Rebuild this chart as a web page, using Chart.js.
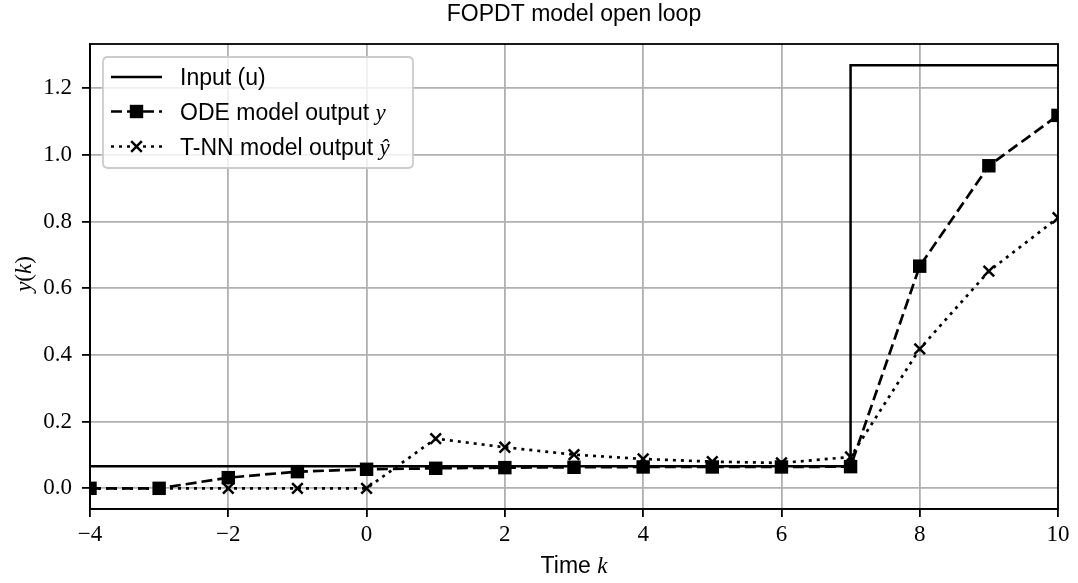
<!DOCTYPE html>
<html>
<head>
<meta charset="utf-8">
<script src="https://cdn.jsdelivr.net/npm/chart.js@4.4.1/dist/chart.umd.min.js"></script>
<style>
  html, body { margin: 0; padding: 0; background: #ffffff; }
  #wrap { width: 1078px; height: 583px; }
</style>
</head>
<body>
<div id="wrap"><canvas id="c" width="1078" height="583"></canvas></div>
<script>
// ---- data ----
const steps = [-4, -3, -2, -1, 0, 1, 2, 3, 4, 5, 6, 7, 8, 9, 10];
const odeOutput = [0.000, 0.000, 0.032, 0.050, 0.057, 0.060, 0.062, 0.063, 0.064, 0.064, 0.064, 0.065, 0.666, 0.967, 1.118];
const tnnOutput = [0.000, 0.000, 0.000, 0.000, 0.000, 0.149, 0.123, 0.101, 0.088, 0.080, 0.076, 0.094, 0.418, 0.651, 0.811];
const inputTimes = [-4, 7, 7, 10];
const inputValues = [0.066, 0.066, 1.268, 1.268];
const xTickValues = [-4, -2, 0, 2, 4, 6, 8, 10];
const yTickValues = [0.0, 0.2, 0.4, 0.6, 0.8, 1.0, 1.2];
const titleText = 'FOPDT model open loop';
const legendLabels = ['Input (u)', 'ODE model output ', 'T-NN model output '];

const SANS = '"Liberation Sans", Arial, sans-serif';
const SERIF = '"Liberation Serif", "Times New Roman", serif';

const toXY = (xs, ys) => xs.map((x, i) => ({ x: x, y: ys[i] }));

const overlay = {
  id: 'overlay',
  afterDatasetsDraw(chart) {
    const { ctx, chartArea: a } = chart;
    ctx.save();
    ctx.strokeStyle = '#000';
    ctx.lineWidth = 1.8;
    ctx.strokeRect(a.left, a.top, a.right - a.left, a.bottom - a.top);
    ctx.restore();
  },
  afterDraw(chart) {
    const { ctx, chartArea: a } = chart;
    const cx = (a.left + a.right) / 2;
    ctx.save();
    ctx.fillStyle = '#000';
    // title
    ctx.font = '23px ' + SANS;
    ctx.textAlign = 'center';
    ctx.textBaseline = 'alphabetic';
    ctx.fillText(titleText, cx, 21);

    // x axis title: "Time k"
    ctx.font = '23px ' + SANS;
    const t1 = 'Time ';
    const w1 = ctx.measureText(t1).width;
    ctx.font = 'italic 23px ' + SERIF;
    const w2 = ctx.measureText('k').width;
    let sx = cx - (w1 + w2) / 2;
    ctx.textAlign = 'left';
    ctx.font = '23px ' + SANS;
    ctx.fillText(t1, sx, 573);
    ctx.font = 'italic 23px ' + SERIF;
    ctx.fillText('k', sx + w1, 573);

    // y axis title: "y(k)"
    ctx.save();
    ctx.translate(31, 274);
    ctx.rotate(-Math.PI / 2);
    const parts = [['y', 'italic 23px '], ['(', '23px '], ['k', 'italic 23px '], [')', '23px ']];
    let tw = 0;
    parts.forEach(p => { ctx.font = p[1] + SERIF; tw += ctx.measureText(p[0]).width; });
    let px = -tw / 2;
    parts.forEach(p => { ctx.font = p[1] + SERIF; ctx.fillText(p[0], px, 0); px += ctx.measureText(p[0]).width; });
    ctx.restore();

    // legend box
    const bx = 103, by = 57, bw = 310, bh = 111, r = 5;
    ctx.beginPath();
    ctx.moveTo(bx + r, by);
    ctx.lineTo(bx + bw - r, by);
    ctx.quadraticCurveTo(bx + bw, by, bx + bw, by + r);
    ctx.lineTo(bx + bw, by + bh - r);
    ctx.quadraticCurveTo(bx + bw, by + bh, bx + bw - r, by + bh);
    ctx.lineTo(bx + r, by + bh);
    ctx.quadraticCurveTo(bx, by + bh, bx, by + bh - r);
    ctx.lineTo(bx, by + r);
    ctx.quadraticCurveTo(bx, by, bx + r, by);
    ctx.closePath();
    ctx.fillStyle = 'rgba(255,255,255,0.8)';
    ctx.fill();
    ctx.strokeStyle = '#cccccc';
    ctx.lineWidth = 1.8;
    ctx.stroke();

    const rows = [77, 111.5, 146.5];
    const lx0 = 111, lx1 = 162, lmid = (lx0 + lx1) / 2;
    ctx.strokeStyle = '#000';
    ctx.fillStyle = '#000';
    ctx.lineWidth = 2.5;
    ctx.setLineDash([]);
    ctx.beginPath(); ctx.moveTo(lx0, rows[0]); ctx.lineTo(lx1, rows[0]); ctx.stroke();
    ctx.lineWidth = 2.7;
    ctx.setLineDash([11, 5]);
    ctx.beginPath(); ctx.moveTo(lx0, rows[1]); ctx.lineTo(lx1, rows[1]); ctx.stroke();
    ctx.setLineDash([]);
    ctx.fillRect(lmid - 6.7, rows[1] - 6.7, 13.4, 13.4);
    ctx.setLineDash([3, 5]);
    ctx.beginPath(); ctx.moveTo(lx0, rows[2]); ctx.lineTo(lx1, rows[2]); ctx.stroke();
    ctx.setLineDash([]);
    ctx.lineWidth = 2.5;
    ctx.beginPath();
    ctx.moveTo(lmid - 5.3, rows[2] - 5.3); ctx.lineTo(lmid + 5.3, rows[2] + 5.3);
    ctx.moveTo(lmid - 5.3, rows[2] + 5.3); ctx.lineTo(lmid + 5.3, rows[2] - 5.3);
    ctx.stroke();

    ctx.textAlign = 'left';
    ctx.textBaseline = 'alphabetic';
    const tx = 180;
    ctx.font = '23px ' + SANS;
    ctx.fillText(legendLabels[0], tx, rows[0] + 8);
    ctx.fillText(legendLabels[1], tx, rows[1] + 8);
    let ww = ctx.measureText(legendLabels[1]).width;
    ctx.font = 'italic 23px ' + SERIF;
    ctx.fillText('y', tx + ww, rows[1] + 8);
    ctx.font = '23px ' + SANS;
    ctx.fillText(legendLabels[2], tx, rows[2] + 8);
    ww = ctx.measureText(legendLabels[2]).width;
    ctx.font = 'italic 23px ' + SERIF;
    ctx.fillText('\u0177', tx + ww, rows[2] + 8);
    ctx.restore();
  }
};

new Chart(document.getElementById('c'), {
  type: 'line',
  data: {
    datasets: [
      {
        label: 'Input (u)',
        data: toXY(inputTimes, inputValues),
        borderColor: '#000',
        borderWidth: 2.5,
        pointRadius: 0,
        fill: false,
        tension: 0
      },
      {
        label: 'ODE model output y',
        data: toXY(steps, odeOutput),
        borderColor: '#000',
        borderWidth: 2.7,
        borderDash: [11, 5],
        pointStyle: 'rect',
        pointRadius: 9.5,
        pointBackgroundColor: '#000',
        pointBorderColor: '#000',
        pointBorderWidth: 0,
        fill: false,
        tension: 0
      },
      {
        label: 'T-NN model output ŷ',
        data: toXY(steps, tnnOutput),
        borderColor: '#000',
        borderWidth: 2.7,
        borderDash: [3, 5],
        pointStyle: 'crossRot',
        pointRadius: 7.5,
        pointBorderColor: '#000',
        pointBorderWidth: 2.5,
        fill: false,
        tension: 0
      }
    ]
  },
  options: {
    responsive: false,
    animation: false,
    devicePixelRatio: 1,
    layout: { padding: { top: 44, right: 20, left: 0, bottom: 0 } },
    plugins: {
      legend: { display: false },
      title: { display: false },
      tooltip: { enabled: false }
    },
    scales: {
      x: {
        type: 'linear',
        min: -4,
        max: 10,
        afterBuildTicks: s => { s.ticks = xTickValues.map(v => ({ value: v })); },
        afterFit: s => { s.height = 74; },
        grid: { color: '#b0b0b0', lineWidth: 1.8, tickColor: '#000', tickWidth: 1.8, tickLength: 8 },
        border: { display: true, color: '#000', width: 1.8 },
        ticks: {
          color: '#000',
          font: { family: SERIF, size: 23 },
          padding: 4,
          maxRotation: 0,
          autoSkip: false,
          callback: v => (v < 0 ? '\u2212' + Math.abs(v) : String(v))
        }
      },
      y: {
        type: 'linear',
        min: -0.062,
        max: 1.332,
        afterBuildTicks: s => { s.ticks = yTickValues.map(v => ({ value: v })); },
        afterFit: s => { s.width = 90; },
        grid: { color: '#b0b0b0', lineWidth: 1.8, tickColor: '#000', tickWidth: 1.8, tickLength: 8 },
        border: { display: true, color: '#000', width: 1.8 },
        ticks: {
          color: '#000',
          font: { family: SERIF, size: 23 },
          padding: 10,
          autoSkip: false,
          callback: v => Number(v).toFixed(1)
        }
      }
    }
  },
  plugins: [overlay]
});
</script>
</body>
</html>
